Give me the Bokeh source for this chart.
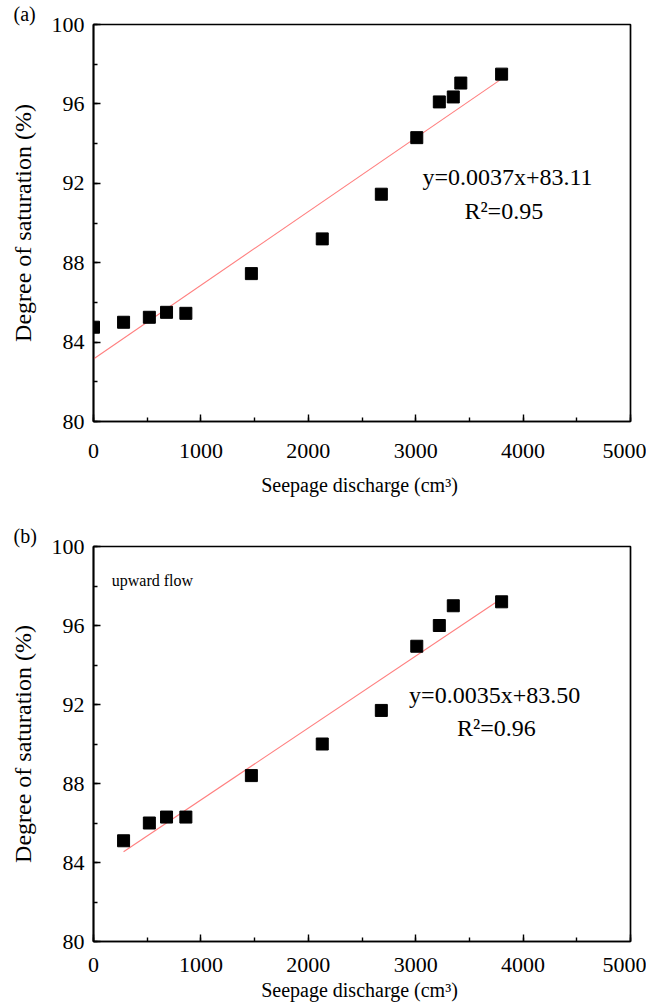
import numpy as np
from bokeh.plotting import figure
from bokeh.layouts import column
from bokeh.models import Label, SingleIntervalTicker, Range1d, Title
from bokeh.embed import file_html
from bokeh.resources import INLINE

# ---- data ----
x_a = [0, 280, 520, 680, 860, 1470, 2130, 2680, 3010, 3220, 3350, 3420, 3800]
y_a = [84.75, 85.0, 85.25, 85.5, 85.45, 87.45, 89.2, 91.45, 94.3, 96.1, 96.35, 97.05, 97.5]
x_b = [280, 520, 680, 860, 1470, 2130, 2680, 3010, 3220, 3350, 3800]
y_b = [85.1, 86.0, 86.3, 86.3, 88.4, 90.0, 91.7, 94.95, 96.0, 97.0, 97.2]
eq_a = ["y=0.0037x+83.11", "R²=0.95"]
eq_b = ["y=0.0035x+83.50", "R²=0.96"]
x_title = "Seepage discharge  (cm³)"
y_title = "Degree of saturation (%)"
FONT = "Liberation Serif"


def make_panel(xs, ys, eq, tag, eq_pos, top, bottom, frame_h, tick_sd, title_sd, note=None):
    p = figure(frame_width=537, frame_height=frame_h,
               min_border_left=93, min_border_right=16,
               min_border_top=top, min_border_bottom=bottom,
               x_range=Range1d(0, 5000), y_range=Range1d(80, 100),
               output_backend="svg", toolbar_location=None)
    p.background_fill_color = "white"
    p.border_fill_color = "white"
    p.outline_line_color = "black"
    p.outline_line_width = 1.7
    p.outline_line_alpha = 1.0
    p.grid.visible = False

    p.xaxis.ticker = SingleIntervalTicker(interval=1000, num_minor_ticks=2)
    p.yaxis.ticker = SingleIntervalTicker(interval=4, num_minor_ticks=2)
    for ax in (p.xaxis[0], p.yaxis[0]):
        ax.axis_line_color = "black"
        ax.axis_line_width = 1.7
        ax.major_tick_in = 7
        ax.major_tick_out = 0
        ax.minor_tick_in = 4
        ax.minor_tick_out = 0
        ax.major_tick_line_color = "black"
        ax.minor_tick_line_color = "black"
        ax.major_tick_line_width = 1.4
        ax.minor_tick_line_width = 1.4
        ax.major_label_text_font = FONT
        ax.major_label_text_font_size = "22px"
        ax.major_label_text_color = "black"
        ax.axis_label_text_font = FONT
        ax.axis_label_text_font_style = "normal"
        ax.axis_label_text_color = "black"
    p.xaxis.axis_label = x_title
    p.xaxis.axis_label_text_font_size = "20px"
    p.xaxis.major_label_standoff = tick_sd
    p.xaxis.axis_label_standoff = title_sd
    p.yaxis.axis_label = y_title
    p.yaxis.axis_label_text_font_size = "24px"
    p.yaxis.major_label_standoff = 9
    p.yaxis.axis_label_standoff = 13

    # linear fit
    k, b = np.polyfit(xs, ys, 1)
    lx = [min(xs), max(xs)]
    p.line(lx, [k * v + b for v in lx], line_color="#ff7f7f", line_width=1.1)
    p.scatter(xs, ys, marker="square", size=12, fill_color="black", line_color="black",
              line_width=1)

    p.add_layout(Label(x=eq_pos[0], y=eq_pos[1], text=eq[0], text_font=FONT,
                       text_color="black", text_font_size="24px",
                       text_align="center", text_baseline="middle"))
    p.add_layout(Label(x=eq_pos[2], y=eq_pos[3], text=eq[1], text_font=FONT,
                       text_color="black", text_font_size="24px",
                       text_align="center", text_baseline="middle"))
    p.add_layout(Title(text=tag, align="left", offset=-80, standoff=0,
                       vertical_align="bottom", text_font=FONT, text_font_size="20px",
                       text_font_style="normal", text_color="black"), "above")
    if note:
        p.add_layout(Label(x=170, y=98.3, text=note, text_font=FONT, text_color="black",
                           text_font_size="16px", text_align="left", text_baseline="middle"))
    return p


pa = make_panel(x_a, y_a, eq_a, "(a)", (3855, 92.3, 3820, 90.6), 24, 85, 397, 22, 13)
pb = make_panel(x_b, y_b, eq_b, "(b)", (3735, 92.5, 3752, 90.8), 40, 60, 395, 16, 4,
                note="upward flow")

layout = column(pa, pb)
open("out.html", "w").write(file_html(layout, INLINE))
